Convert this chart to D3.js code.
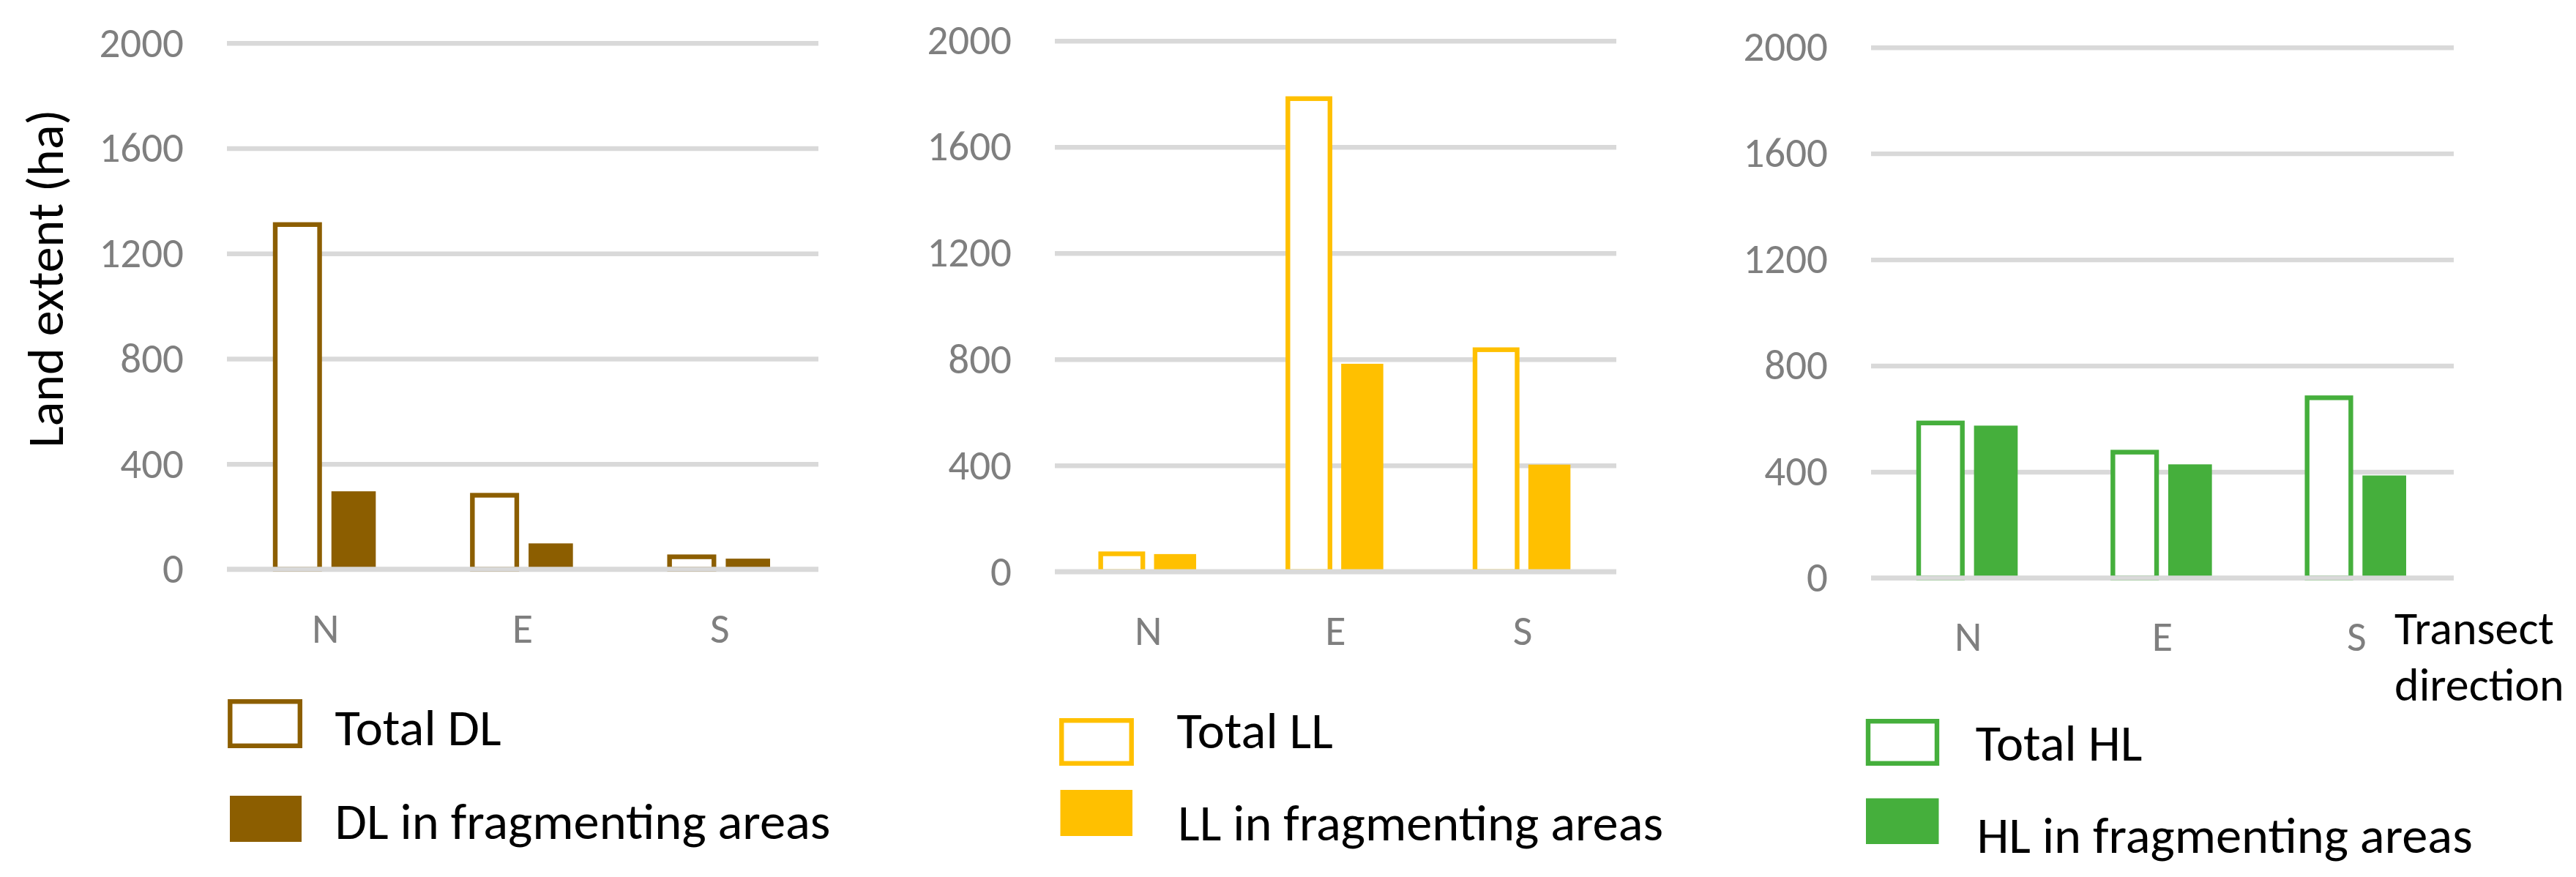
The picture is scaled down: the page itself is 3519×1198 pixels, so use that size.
<!DOCTYPE html>
<html><head><meta charset="utf-8">
<script src="https://cdn.jsdelivr.net/npm/d3@7"></script>
<style>
html,body{margin:0;padding:0;background:#fff;}
svg{display:block;}
text{font-family: Carlito, Lato, "Open Sans", sans-serif;}
</style>
</head><body>
<svg id="chart" width="3519" height="1198"></svg>
<script>
// ---------- data ----------
const categories = ["N", "E", "S"];
const yTickValues = [0, 400, 800, 1200, 1600, 2000];
const totalDL = [1310, 281, 47];
const fragDL  = [296, 98, 40];
const totalLL = [67, 1782, 836];
const fragLL  = [66, 783, 403];
const totalHL = [584, 474, 679];
const fragHL  = [574, 428, 386];
const legendDL = ["Total DL", "DL in fragmenting areas"];
const legendLL = ["Total LL", "LL in fragmenting areas"];
const legendHL = ["Total HL", "HL in fragmenting areas"];
const yAxisTitle = "Land extent (ha)";
const xAxisTitle = ["Transect", "direction"];

// ---------- layout / style ----------
const GRID = "#D9D9D9", TICK = "#7F7F7F";
const panels = [
  {total: totalDL, frag: fragDL, legend: legendDL, color: "#8C5E00",
   left: 310, right: 1118, top: 58.8, bottom: 777.5,
   lb1: {x: 314.3, y: 958.3, w: 95.5, h: 60.5}, lb2: {x: 314, y: 1087, w: 98, h: 63},
   lt1: {x: 457.6, y: 1018}, lt2: {x: 457.6, y: 1145.6}},
  {total: totalLL, frag: fragLL, legend: legendLL, color: "#FFC000",
   left: 1441, right: 2208, top: 55.7, bottom: 780.8,
   lb1: {x: 1450.2, y: 984.2, w: 95.5, h: 58.6}, lb2: {x: 1448.5, y: 1079, w: 98.5, h: 63},
   lt1: {x: 1607.6, y: 1021.7}, lt2: {x: 1609, y: 1148}},
  {total: totalHL, frag: fragHL, legend: legendHL, color: "#45AF3C",
   left: 2556, right: 3352, top: 64.7, bottom: 789.4,
   lb1: {x: 2552, y: 985.2, w: 94, h: 57.6}, lb2: {x: 2549, y: 1090.5, w: 99.5, h: 62.5},
   lt1: {x: 2698.8, y: 1038.5}, lt2: {x: 2700.4, y: 1164.8}}
];
const STROKE = 6.4;
const FONT = "Carlito, Lato, sans-serif";
const svg = d3.select("#chart");

panels.forEach(p => {
  const g = svg.append("g");
  const x = d3.scaleBand().domain(categories).range([p.left, p.right]).padding(0);
  const xs = d3.scaleBand().domain(["total", "frag"]).range([0, x.bandwidth()])
    .paddingInner(0.2105).paddingOuter(0.86);
  const y = d3.scaleLinear().domain([0, 2000]).range([p.bottom, p.top]);

  // gridlines + y tick labels
  const ya = g.append("g").attr("transform", `translate(${p.left},0)`)
    .call(d3.axisLeft(y).tickValues(yTickValues).tickFormat(d3.format("d"))
      .tickSize(-(p.right - p.left)).tickPadding(59));
  ya.select(".domain").remove();
  ya.selectAll("line").attr("stroke", GRID).attr("stroke-width", STROKE);
  ya.selectAll("text").attr("fill", TICK).attr("font-size", 57).style("font-family", FONT);

  // bars
  const rows = categories.map((c, i) => ({c, total: p.total[i], frag: p.frag[i]}));
  g.selectAll("rect.total").data(rows).join("rect").attr("class", "total")
    .attr("x", d => x(d.c) + xs("total")).attr("width", xs.bandwidth())
    .attr("y", d => y(d.total)).attr("height", d => y(0) - y(d.total))
    .attr("fill", "#fff").attr("stroke", p.color).attr("stroke-width", STROKE);
  g.selectAll("rect.frag").data(rows).join("rect").attr("class", "frag")
    .attr("x", d => x(d.c) + xs("frag")).attr("width", xs.bandwidth())
    .attr("y", d => y(d.frag)).attr("height", d => y(0) - y(d.frag))
    .attr("fill", p.color);

  // baseline (category axis line) on top
  g.append("line").attr("x1", p.left).attr("x2", p.right)
    .attr("y1", y(0)).attr("y2", y(0)).attr("stroke", GRID).attr("stroke-width", STROKE);

  // x axis labels
  const xa = g.append("g").attr("transform", `translate(0,${y(0)})`)
    .call(d3.axisBottom(x).tickSize(0));
  xa.select(".domain").remove();
  xa.selectAll("text").attr("dy", null).attr("y", 100).attr("fill", TICK)
    .attr("font-size", 58).style("font-family", FONT);

  // legend
  g.append("rect").attr("x", p.lb1.x).attr("y", p.lb1.y).attr("width", p.lb1.w).attr("height", p.lb1.h)
    .attr("fill", "#fff").attr("stroke", p.color).attr("stroke-width", STROKE);
  g.append("rect").attr("x", p.lb2.x).attr("y", p.lb2.y).attr("width", p.lb2.w).attr("height", p.lb2.h)
    .attr("fill", p.color);
  g.append("text").attr("x", p.lt1.x).attr("y", p.lt1.y).attr("font-size", 70.5).attr("fill", "#000").text(p.legend[0]);
  g.append("text").attr("x", p.lt2.x).attr("y", p.lt2.y).attr("font-size", 70.5).attr("fill", "#000").text(p.legend[1]);
});

// y axis title
svg.append("text").attr("transform", "translate(86,380.5) rotate(-90)")
  .attr("text-anchor", "middle").attr("font-size", 70).attr("fill", "#000").text(yAxisTitle);

// x axis title (right of panel 3)
svg.append("text").attr("x", 3271).attr("y", 880).attr("font-size", 64).attr("fill", "#000").text(xAxisTitle[0]);
svg.append("text").attr("x", 3271).attr("y", 956.6).attr("font-size", 64).attr("fill", "#000").text(xAxisTitle[1]);
</script>
</body></html>
